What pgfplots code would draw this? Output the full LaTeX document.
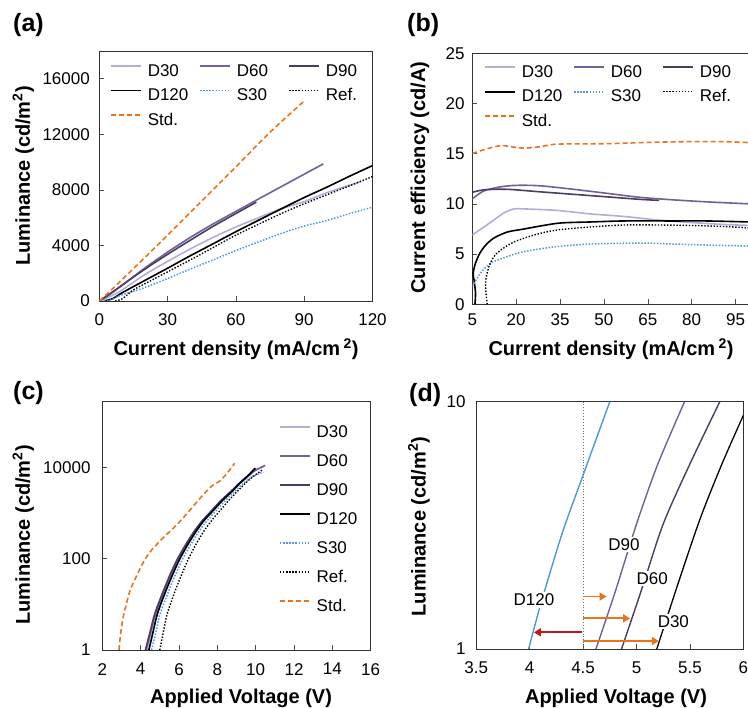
\documentclass[border=0pt]{standalone}
\usepackage{fontspec}
\setmainfont{Liberation Sans}
\usepackage{pgfplots}
\pgfplotsset{compat=1.18}
\usetikzlibrary{arrows.meta}

\definecolor{cD30}{RGB}{185,170,215}
\definecolor{cD60}{RGB}{115,95,155}
\definecolor{cD90}{RGB}{75,60,100}
\definecolor{cS30}{RGB}{80,150,225}
\definecolor{cStd}{RGB}{235,115,25}
\definecolor{cRed}{RGB}{200,20,20}

\newcommand\tickfont{\fontsize{17}{20}\selectfont}
\newcommand\labfont{\bfseries\fontsize{20}{24}\selectfont}
\newcommand\panfont{\bfseries\fontsize{25}{30}\selectfont}

\pgfplotsset{
  panel/.style={
    scale only axis,
    axis line style={black!80, line width=0.8pt},
    tick style={black!70, line width=0.6pt},
    tick align=inside, xtick pos=bottom, ytick pos=left,
    major tick length=5pt,
    ticklabel style={font=\tickfont, inner sep=0pt},
    xticklabel={\tickfont\pgfmathprintnumber[assume math mode=true]{\tick}},
    yticklabel={\tickfont\pgfmathprintnumber[assume math mode=true]{\tick}},
    scaled ticks=false,
    /pgf/number format/assume math mode=true,
    /pgf/number format/set thousands separator={},
    clip=true,
    every axis plot/.append style={smooth, tension=0.5},
    legend cell align=left,
    legend style={draw=none, fill=none, inner sep=0pt, anchor=north west,
      font=\tickfont,
      nodes={inner sep=0pt, text height=12pt, text depth=3pt},
      /tikz/every odd column/.append style={column sep=6pt}},
    legend image code/.code={\path (0pt,0pt) (30pt,0pt);
      \draw[##1, sharp plot] (0pt,5.5pt) -- (30pt,5.5pt);},
  },
  sD30/.style={color=cD30, line width=1.6pt},
  sD60/.style={color=cD60, line width=1.6pt},
  sD90/.style={color=cD90, line width=1.6pt},
  sD120/.style={color=black, line width=1.6pt},
  sS30/.style={color=cS30, line width=1.5pt, dash pattern=on 1.5pt off 1.6pt},
  sRef/.style={color=black, line width=1.4pt, dash pattern=on 1.4pt off 1.7pt},
  sStd/.style={color=cStd, line width=1.6pt, dash pattern=on 5pt off 3pt},
}

\begin{document}
\begin{tikzpicture}
\useasboundingbox (0pt,0pt) rectangle (748pt,-708pt);

% ---------------- (a) luminance vs current density
\begin{axis}[panel, at={(99.3pt,-301pt)}, anchor=south west,
  width=273.2pt, height=250pt,
  xmin=0, xmax=120, ymin=0, ymax=18000,
  xtick={0,30,60,90,120}, ytick={0,4000,8000,12000,16000},
  xticklabel style={yshift=-12pt}, yticklabel style={xshift=-9.3pt},
  legend columns=3, legend style={at={(0.039,0.948)}, row sep=9.5pt}]
\addplot[sD30] coordinates {(0,0)(5,350)(10,790)(20,1900)(30,2850)(40,3750)(50,4580)(60,5330)(70,6000)(80,6650)(90,7150)(100,7800)(115,8600)};
\addlegendentry{\makebox[51.5pt][l]{D30}}
\addplot[sD60] coordinates {(0,0)(5,525)(10,1130)(20,2370)(30,3520)(40,4580)(50,5550)(60,6450)(70,7350)(80,8240)(90,9130)(98.4,9870)};
\addlegendentry{\makebox[51.5pt][l]{D60}}
\addplot[sD90] coordinates {(0,0)(5,555)(10,1140)(20,2290)(30,3360)(40,4380)(50,5375)(60,6300)(69,7120)};
\addlegendentry{\makebox[51.5pt][l]{D90}}
\addplot[sD120] coordinates {(2,0)(6,180)(10,590)(20,1480)(30,2360)(40,3260)(50,4120)(60,4990)(70,5820)(80,6640)(90,7450)(100,8200)(110,8990)(120,9750)};
\addlegendentry{\makebox[51.5pt][l]{D120}}
\addplot[sS30] coordinates {(2,0)(5,90)(10,440)(20,970)(30,1620)(40,2300)(50,2960)(60,3630)(70,4250)(80,4870)(90,5400)(100,5800)(110,6300)(120,6750)};
\addlegendentry{\makebox[51.5pt][l]{S30}}
\addplot[sRef] coordinates {(7,0)(10,150)(15,800)(20,1240)(30,2100)(40,2960)(50,3850)(60,4740)(70,5530)(80,6300)(90,7000)(100,7650)(110,8300)(120,8960)};
\addlegendentry{\makebox[51.5pt][l]{Ref.}}
\addplot[sStd] coordinates {(0,0)(5,750)(10,1540)(20,3130)(30,4740)(45,7200)(60,9660)(75,12150)(90,14400)};
\addlegendentry{\makebox[51.5pt][l]{Std.}}
\end{axis}

% ---------------- (b) current efficiency vs current density
\begin{axis}[panel, at={(472.3pt,-304.3pt)}, anchor=south west,
  width=277.9pt, height=251pt,
  xmin=5, xmax=100, ymin=0, ymax=25,
  xtick={5,20,35,50,65,80,95}, ytick={0,5,10,15,20,25},
  xticklabel style={yshift=-9pt}, yticklabel style={xshift=-7.6pt},
  legend columns=3, legend style={at={(0.042,0.953)}, row sep=9.5pt}]
\addplot[sD30] coordinates {(5,6.9)(9,7.7)(12.4,8.4)(15.8,9.1)(19.2,9.5)(22.7,9.5)(34,9.35)(45.4,9.0)(56.8,8.75)(68.2,8.4)(79.6,8.15)(91,7.95)(100,7.85)};
\addlegendentry{\makebox[51.5pt][l]{D30}}
\addplot[sD60] coordinates {(5,10.5)(9,11.3)(14.7,11.7)(20.4,11.85)(28.3,11.8)(39.7,11.45)(51.1,11.05)(62.5,10.65)(73.9,10.4)(85.3,10.2)(100,10.0)};
\addlegendentry{\makebox[51.5pt][l]{D60}}
\addplot[sD90] coordinates {(5,11.15)(9,11.4)(17,11.45)(28.3,11.2)(39.7,10.95)(51.1,10.7)(62.5,10.45)(68.9,10.35)};
\addlegendentry{\makebox[51.5pt][l]{D90}}
\addplot[sD120] coordinates {(5.9,0)(6.1,1.1)(5.6,2.4)(5.3,3.1)(6.1,4.1)(7.6,5.1)(9.6,5.9)(12.4,6.6)(17,7.2)(22.7,7.5)(28.3,7.8)(35.2,8.1)(45.4,8.2)(56.8,8.3)(73.9,8.3)(85.3,8.3)(100,8.2)};
\addlegendentry{\makebox[51.5pt][l]{D120}}
\addplot[sS30] coordinates {(5,1.8)(7.8,3.1)(11.3,4.1)(17,4.75)(22.7,5.25)(34,5.75)(45.4,6.0)(62.5,6.1)(73.9,6.0)(85.3,5.9)(100,5.8)};
\addlegendentry{\makebox[51.5pt][l]{S30}}
\addplot[sRef] coordinates {(10.1,0)(9.6,1.4)(9.6,2.4)(10.7,3.75)(12.4,4.75)(14.7,5.4)(19.2,6.2)(26.1,6.9)(34,7.4)(45.4,7.7)(56.8,7.9)(68.2,7.9)(79.6,7.85)(91,7.75)(100,7.6)};
\addlegendentry{\makebox[51.5pt][l]{Ref.}}
\addplot[sStd] coordinates {(5,15.0)(9,15.4)(14.7,15.8)(19.2,15.65)(22.7,15.55)(28.3,15.7)(34,15.95)(51.1,16.0)(68.2,16.15)(79.6,16.2)(91,16.2)(100,16.1)};
\addlegendentry{\makebox[51.5pt][l]{Std.}}
\end{axis}

% ---------------- (c) luminance vs voltage (log)
\begin{axis}[panel, at={(102.3pt,-650pt)}, anchor=south west,
  width=268.4pt, height=249pt,
  xmin=2, xmax=16, ymode=log, ymin=1, ymax=283000,
  xtick={2,4,6,8,10,12,14,16},
  ytick={1,100,10000}, yticklabels={\tickfont 1,\tickfont 100,\tickfont 10000}, yminorticks=false,
  xticklabel style={yshift=-13pt}, yticklabel style={xshift=-11.6pt},
  legend style={at={(0.658,0.904)}, row sep=14pt}]
\addplot[sD30] coordinates {(4.32,1)(4.54,2.3)(4.79,5.9)(5.04,11.5)(5.31,22.4)(5.64,48)(6.0,100)(6.44,210)(6.87,400)(7.29,680)(7.74,1100)(8.23,1850)(8.77,3000)(9.22,4600)(9.62,6400)(10.0,8600)(10.4,10300)};
\addlegendentry{D30}
\addplot[sD60] coordinates {(4.28,1)(4.5,2.3)(4.75,5.9)(5.0,11.5)(5.27,22.4)(5.6,48)(5.96,100)(6.4,210)(6.83,400)(7.25,680)(7.7,1100)(8.2,1850)(8.74,3000)(9.2,4600)(9.6,6400)(10.0,8700)(10.5,11000)};
\addlegendentry{D60}
\addplot[sD90] coordinates {(4.25,1)(4.47,2.3)(4.72,5.9)(4.97,11.5)(5.24,22.4)(5.57,48)(5.93,100)(6.37,210)(6.8,400)(7.22,680)(7.68,1100)(8.18,1850)(8.72,3000)(9.18,4600)(9.6,6600)(10.0,9500)};
\addlegendentry{D90}
\addplot[sD120] coordinates {(4.43,1)(4.63,2.3)(4.86,5.9)(5.1,11.5)(5.37,22.4)(5.7,48)(6.05,100)(6.48,210)(6.9,400)(7.3,680)(7.76,1100)(8.25,1850)(8.78,3000)(9.2,4600)(9.58,6400)(9.97,9600)};
\addlegendentry{D120}
\addplot[sS30] coordinates {(4.57,1)(4.78,2.3)(5.0,5.9)(5.25,11.5)(5.52,22.4)(5.85,48)(6.2,100)(6.63,210)(7.05,400)(7.47,680)(7.92,1100)(8.4,1850)(8.92,3000)(9.37,4500)(9.78,6100)(10.4,7900)};
\addlegendentry{S30}
\addplot[sRef] coordinates {(5.0,1)(5.17,2.3)(5.37,5.9)(5.6,11.5)(5.85,22.4)(6.17,48)(6.5,100)(6.9,210)(7.3,400)(7.7,680)(8.12,1100)(8.58,1850)(9.05,3000)(9.47,4500)(9.85,6200)(10.35,8800)};
\addlegendentry{Ref.}
\addplot[sStd] coordinates {(2.87,1)(2.95,2.2)(3.08,5)(3.25,10)(3.45,20)(3.7,35)(3.95,58)(4.25,100)(4.6,160)(5.0,240)(5.45,370)(5.9,560)(6.4,950)(6.8,1500)(7.3,2600)(7.75,4000)(8.1,4900)(8.5,7300)(8.9,12300)};
\addlegendentry{Std.}
\end{axis}

% ---------------- (d) zoom of onset region
\begin{axis}[panel, at={(476.3pt,-649pt)}, anchor=south west,
  width=267pt, height=247.3pt,
  xmin=3.5, xmax=6, ymode=log, ymin=1, ymax=10,
  xtick={3.5,4,4.5,5,5.5,6},
  xticklabels={\tickfont 3.5,\tickfont 4,\tickfont 4.5,\tickfont 5,\tickfont 5.5,\tickfont 6},
  ytick={1,10}, yticklabels={\tickfont 1,\tickfont 10}, yminorticks=false,
  xticklabel style={yshift=-12.7pt}, yticklabel style={xshift=-10.6pt}]
\addplot[color=cS30, line width=1.4pt] coordinates {(3.99,1)(4.1,1.5)(4.3,2.9)(4.5,5.05)(4.75,10)};
\addplot[color=cD60, line width=1.4pt] coordinates {(4.62,1)(4.8,1.7)(5.0,3.2)(5.2,5.6)(5.45,10)};
\addplot[color=cD90, line width=1.4pt] coordinates {(4.86,1)(5.05,1.75)(5.25,3.2)(5.5,5.6)(5.78,10)};
\addplot[color=black, line width=1.3pt] coordinates {(5.19,1)(5.4,1.9)(5.6,3.4)(5.8,5.6)(6.0,8.8)};
\draw[black!55, dotted, line width=0.9pt] (axis cs:4.5,1) -- (axis cs:4.5,10);
\draw[cStd, line width=1.8pt, -{Triangle[length=7pt,width=8pt]}] (axis cs:4.5,1.63) -- (axis cs:4.72,1.63);
\draw[cStd, line width=1.8pt, -{Triangle[length=7pt,width=8pt]}] (axis cs:4.5,1.33) -- (axis cs:4.94,1.33);
\draw[cStd, line width=1.8pt, -{Triangle[length=7pt,width=8pt]}] (axis cs:4.5,1.077) -- (axis cs:5.21,1.077);
\draw[cRed, line width=1.8pt, -{Triangle[length=7pt,width=8pt]}] (axis cs:4.49,1.168) -- (axis cs:4.04,1.168);
\node[fill=white, inner sep=2pt, font=\tickfont] at (axis cs:4.04,1.578) {D120};
\node[fill=white, inner sep=1.5pt, font=\tickfont] at (axis cs:4.883,2.65) {D90};
\node[fill=white, inner sep=1.5pt, font=\tickfont] at (axis cs:5.148,1.92) {D60};
\node[fill=white, inner sep=1.5pt, font=\tickfont] at (axis cs:5.345,1.29) {D30};
\end{axis}

% ---------------- labels
\node[anchor=base west, inner sep=0pt, font=\panfont] at (13pt,-31.5pt) {(a)};
\node[anchor=base west, inner sep=0pt, font=\panfont] at (407pt,-31.5pt) {(b)};
\node[anchor=base west, inner sep=0pt, font=\panfont] at (13pt,-399.5pt) {(c)};
\node[anchor=base west, inner sep=0pt, font=\panfont] at (409pt,-401.5pt) {(d)};

\node[anchor=base, inner sep=0pt, font=\labfont] at (236pt,-356pt) {Current density (mA/cm\,\textsuperscript{2})};
\node[anchor=base, inner sep=0pt, font=\labfont] at (611pt,-356pt) {Current density (mA/cm\,\textsuperscript{2})};
\node[anchor=base, inner sep=0pt, font=\labfont] at (241pt,-703pt) {Applied Voltage (V)};
\node[anchor=base, inner sep=0pt, font=\labfont] at (616pt,-703pt) {Applied Voltage (V)};

\node[anchor=base, rotate=90, inner sep=0pt, font=\labfont] at (30pt,-176pt) {Luminance (cd/m\textsuperscript{2})};
\node[anchor=base, rotate=90, inner sep=0pt, font=\labfont] at (425pt,-177.5pt) {Current efficiency (cd/A)};
\node[anchor=base, rotate=90, inner sep=0pt, font=\labfont] at (30pt,-535pt) {Luminance (cd/m\textsuperscript{2})};
\node[anchor=base, rotate=90, inner sep=0pt, font=\labfont] at (425.5pt,-526.7pt) {Luminance (cd/m\textsuperscript{2})};
\end{tikzpicture}
\end{document}
